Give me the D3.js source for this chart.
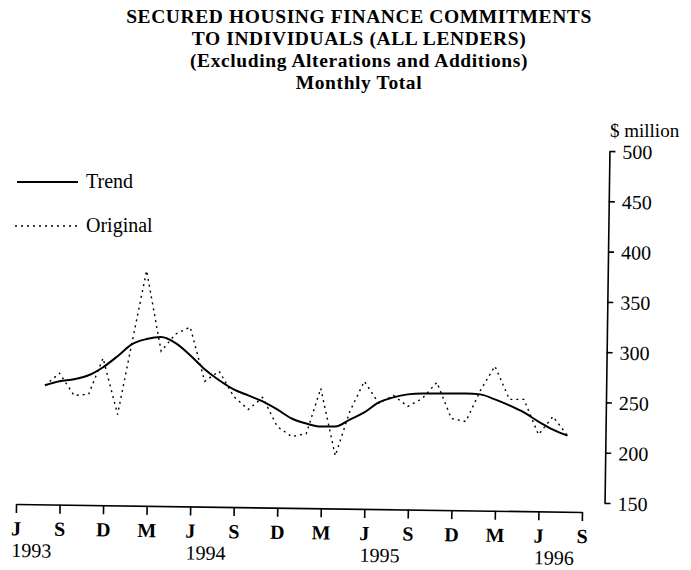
<!DOCTYPE html>
<html>
<head>
<meta charset="utf-8">
<style>
  body { margin: 0; background: #fff; }
  text { font-family: "Liberation Serif", "Times New Roman", serif; fill: #000; }
</style>
</head>
<body>
<svg id="chart" width="691" height="570"></svg>
<script src="https://cdn.jsdelivr.net/npm/d3@7"></script>
<script>
// month index 0 = June 1993; the series run Aug 1993 .. Aug 1996
const titleLines = [
  "SECURED HOUSING FINANCE COMMITMENTS",
  "TO INDIVIDUALS (ALL LENDERS)",
  "(Excluding Alterations and Additions)",
  "Monthly Total"
];
const firstMonth = 2;
const original = [267, 279, 257, 258, 294, 238, 310, 381, 301, 318, 325, 271, 281, 256, 243, 255, 226, 216, 219,
  264, 197, 241, 271, 249, 257, 246, 254, 270, 234, 231, 262, 286, 253, 253, 218, 236, 217];
const trend = [267, 271, 273, 277, 285, 296, 308, 313, 315, 309, 297, 283, 272, 263, 257, 251, 243, 234, 229,
  226, 226, 233, 240, 250, 255, 258, 259, 259, 259, 259, 258, 253, 247, 240, 231, 223, 217];
const xTicks = [0, 3, 6, 9, 12, 15, 18, 21, 24, 27, 30, 33, 36, 39];
const xTickLabels = ["J", "S", "D", "M", "J", "S", "D", "M", "J", "S", "D", "M", "J", "S"];
const yearTicks = [0, 12, 24, 36];
const yearLabels = ["1993", "1994", "1995", "1996"];
const yTicks = [150, 200, 250, 300, 350, 400, 450, 500];

const svg = d3.select("#chart");

const x = d3.scaleLinear().domain([0, 39]).range([16, 582]);
const y = d3.scaleLinear().domain([150, 500]).range([503, 151]);

// title
svg.append("g").selectAll("text")
  .data(titleLines)
  .join("text")
  .attr("x", 359)
  .attr("y", (d, i) => 23 + i * 22)
  .attr("text-anchor", "middle")
  .attr("font-weight", "bold")
  .attr("font-size", 19.5)
  .attr("letter-spacing", 0.6)
  .text(d => d);

svg.append("text").attr("x", 610).attr("y", 137).attr("font-size", 19).text("$ million");

// y axis on the right (scan is a touch rotated)
const yAxis = svg.append("g")
  .attr("transform", "translate(607,0) rotate(0.8,0,327)")
  .call(d3.axisRight(y).tickValues(yTicks).tickSize(6).tickSizeOuter(0).tickPadding(7));
yAxis.selectAll("text").attr("font-size", 20).attr("font-family", "Liberation Serif, serif").attr("dy", "0.35em");

// x axis
const xAxis = svg.append("g")
  .attr("transform", "translate(0,508) rotate(0.8,300,0)")
  .call(d3.axisBottom(x).tickValues(xTicks).tickSize(9).tickSizeOuter(0).tickPadding(8)
    .tickFormat((d, i) => xTickLabels[i]));
xAxis.selectAll("text").attr("font-size", 20).attr("font-weight", "bold").attr("font-family", "Liberation Serif, serif");
xAxis.selectAll(".yr")
  .data(yearTicks)
  .join("text")
  .attr("class", "yr")
  .attr("x", d => x(d) - 4)
  .attr("y", 53)
  .attr("text-anchor", "start")
  .attr("font-family", "Liberation Serif, serif")
  .attr("font-size", 20)
  .text((d, i) => yearLabels[i]);

svg.selectAll(".domain, .tick line").attr("stroke", "#000").attr("stroke-width", 1.6);

// lines
const lineOrig = d3.line()
  .x((d, i) => x(firstMonth + i))
  .y(d => y(d));
const lineTrend = d3.line()
  .x((d, i) => x(firstMonth + i))
  .y(d => y(d))
  .curve(d3.curveMonotoneX);

svg.append("path")
  .datum(original)
  .attr("d", lineOrig)
  .attr("fill", "none")
  .attr("stroke", "#000")
  .attr("stroke-width", 1.4)
  .attr("stroke-dasharray", "2,4");

svg.append("path")
  .datum(trend)
  .attr("d", lineTrend)
  .attr("fill", "none")
  .attr("stroke", "#000")
  .attr("stroke-width", 2);

// legend
const legend = svg.append("g");
legend.append("line").attr("x1", 17).attr("x2", 78).attr("y1", 182).attr("y2", 182)
  .attr("stroke", "#000").attr("stroke-width", 2);
legend.append("text").attr("x", 86).attr("y", 188).attr("font-size", 20).text("Trend");
legend.append("line").attr("x1", 15).attr("x2", 78).attr("y1", 226).attr("y2", 226)
  .attr("stroke", "#000").attr("stroke-width", 1.4).attr("stroke-dasharray", "2,4");
legend.append("text").attr("x", 86).attr("y", 232).attr("font-size", 20).text("Original");
</script>
</body>
</html>
